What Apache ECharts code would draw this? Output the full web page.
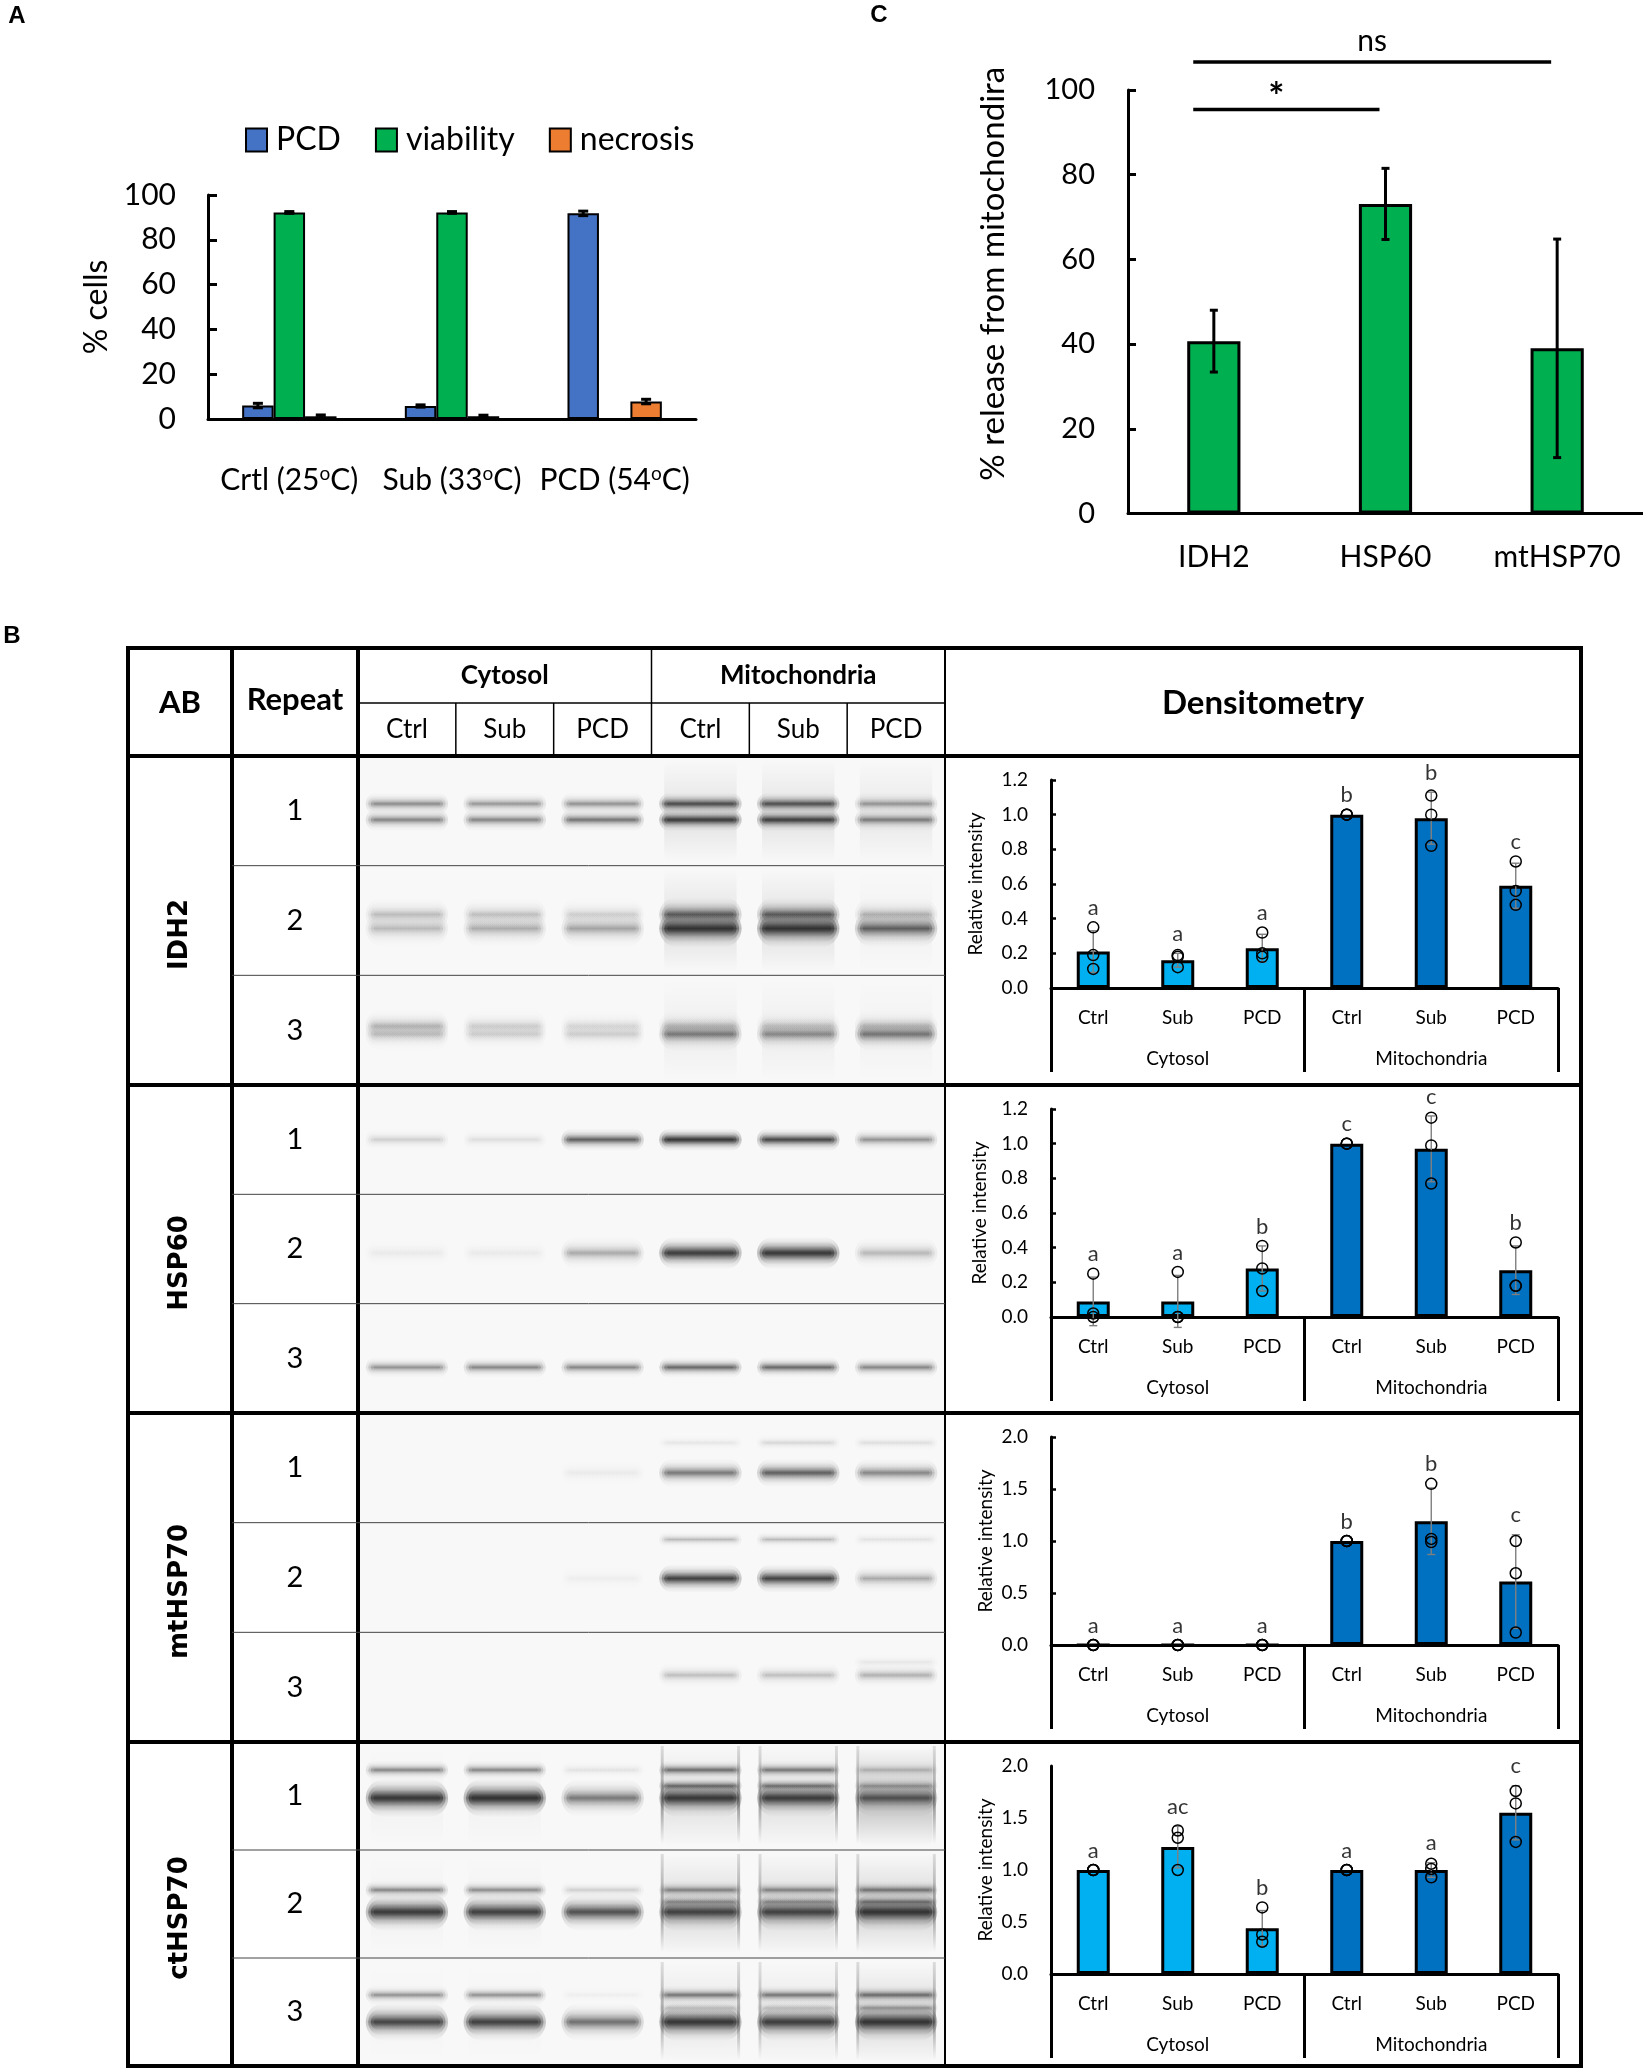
<!DOCTYPE html>
<html><head><meta charset="utf-8">
<script src="https://cdn.jsdelivr.net/npm/echarts/dist/echarts.min.js"></script>
<style>html,body{margin:0;padding:0;background:#fff}#c{width:1643px;height:2069px}</style>
</head><body><div id="c"></div>
<script>
// ================= DATA =================
// Panel A
const catsA = ['Crtl (25oC)', 'Sub (33oC)', 'PCD (54oC)'];
const namesA = ['PCD', 'viability', 'necrosis'];
const pcdA = [6.0, 5.8, 91.8];
const viabilityA = [92.2, 92.2, 0];
const necrosisA = [1.2, 1.2, 7.8];
const pcdErrA = [1.0, 0.5, 1.0];
const viabilityErrA = [0.4, 0.4, 0];
const necrosisErrA = [0.6, 0.5, 1.0];

// Panel C
const catsC = ['IDH2', 'HSP60', 'mtHSP70'];
const releaseC = [40.7, 73.1, 39.0];
const releaseErrC = [7.3, 8.4, 25.8];
const sigFrom = [0, 0];
const sigTo = [1, 2];
const sigLevel = [95.4, 106.6];
const sigText = ['*', 'ns'];

// Panel B – densitometry
const lanes = ['Ctrl', 'Sub', 'PCD', 'Ctrl', 'Sub', 'PCD'];
const fractions = ['Cytosol', 'Mitochondria'];
const repeats = ['1', '2', '3'];
const antibodies = ['IDH2', 'HSP60', 'mtHSP70', 'ctHSP70'];

const idh2Mean = [0.21, 0.16, 0.23, 1.00, 0.98, 0.59];
const idh2Sd = [0.12, 0.04, 0.08, 0, 0.15, 0.13];
const idh2Pts = [[0.35, 0.19, 0.11], [0.19, 0.18, 0.12], [0.32, 0.20, 0.18], [1, 1, 1], [1.11, 1.00, 0.82], [0.73, 0.56, 0.48]];
const idh2Letters = ['a', 'a', 'a', 'b', 'b', 'c'];

const hsp60Mean = [0.09, 0.09, 0.28, 1.00, 0.97, 0.27];
const hsp60Sd = [0.14, 0.15, 0.13, 0, 0.19, 0.14];
const hsp60Pts = [[0.25, 0.02, 0.0], [0.26, 0.0, 0.0], [0.41, 0.28, 0.15], [1, 1, 1], [1.15, 0.99, 0.77], [0.43, 0.18, 0.18]];
const hsp60Letters = ['a', 'a', 'b', 'c', 'c', 'b'];

const mthsp70Mean = [0, 0, 0, 1.00, 1.19, 0.61];
const mthsp70Sd = [0, 0, 0, 0, 0.32, 0.45];
const mthsp70Pts = [[0, 0, 0], [0, 0, 0], [0, 0, 0], [1, 1, 1], [1.55, 1.02, 0.99], [1.00, 0.69, 0.12]];
const mthsp70Letters = ['a', 'a', 'a', 'b', 'b', 'c'];

const cthsp70Mean = [1.00, 1.22, 0.44, 1.00, 1.00, 1.55];
const cthsp70Sd = [0, 0.20, 0.17, 0, 0.07, 0.26];
const cthsp70Pts = [[1, 1, 1], [1.38, 1.31, 1.00], [0.64, 0.38, 0.31], [1, 1, 1], [1.06, 1.01, 0.93], [1.76, 1.64, 1.27]];
const cthsp70Letters = ['a', 'ac', 'b', 'a', 'a', 'c'];

const densMax = [1.2, 1.2, 2.0, 2.0];
const densInterval = [0.2, 0.2, 0.5, 0.5];

// Western blot band darkness (rows = repeats, cols = lanes)
const idh2BandUpper = [[0.30, 0.26, 0.28, 0.60, 0.58, 0.26], [0.14, 0.13, 0.09, 0.48, 0.48, 0.16], [0.16, 0.09, 0.07, 0.12, 0.10, 0.12]];
const idh2BandLower = [[0.33, 0.33, 0.40, 0.75, 0.72, 0.36], [0.15, 0.19, 0.22, 0.85, 0.85, 0.50], [0.13, 0.09, 0.09, 0.36, 0.30, 0.38]];
const idh2Smear = [[0, 0, 0, 0.07, 0.07, 0.05], [0, 0, 0, 0.08, 0.08, 0.02], [0, 0, 0, 0.03, 0.03, 0.02]];
const hsp60Band = [[0.10, 0.06, 0.50, 0.80, 0.65, 0.28], [0.03, 0.03, 0.20, 0.75, 0.80, 0.16], [0.28, 0.32, 0.32, 0.45, 0.45, 0.32]];
const mthsp70BandUpper = [[0, 0, 0, 0.04, 0.08, 0.06], [0, 0, 0, 0.15, 0.15, 0.05], [0, 0, 0, 0, 0, 0.04]];
const mthsp70Band = [[0, 0, 0.03, 0.38, 0.50, 0.32], [0, 0, 0.02, 0.70, 0.68, 0.20], [0, 0, 0, 0.14, 0.14, 0.18]];
const cthsp70BandUpper = [[0.32, 0.32, 0.05, 0.42, 0.38, 0.15], [0.32, 0.30, 0.10, 0.32, 0.32, 0.38], [0.28, 0.28, 0.02, 0.38, 0.38, 0.42]];
const cthsp70BandMid = [[0, 0, 0, 0.40, 0.36, 0.20], [0, 0, 0, 0.22, 0.22, 0.32], [0, 0, 0, 0.10, 0.10, 0.22]];
const cthsp70BandLower = [[0.82, 0.88, 0.38, 0.80, 0.76, 0.55], [0.78, 0.72, 0.60, 0.70, 0.70, 0.85], [0.68, 0.72, 0.42, 0.82, 0.75, 0.85]];
const cthsp70Smear = [[0.02, 0.02, 0, 0.08, 0.08, 0.18], [0.02, 0.02, 0, 0.10, 0.10, 0.12], [0.01, 0.01, 0, 0.06, 0.06, 0.10]];
const cthsp70Edges = [[0, 0, 0, 0.45, 0.40, 0.45], [0, 0, 0, 0.45, 0.40, 0.45], [0, 0, 0, 0.40, 0.35, 0.45]];

// ================= LAYOUT / STYLE =================
const FONT = 'Lato';
const W = 1643, H = 2069;
const T = { left: 128, right: 1581, top: 648, hMid: 703, hBot: 756, colAB: 232, colRep: 358, colBlot: 945, bottom: 2066 };
const secTops = [756, 1085, 1413, 1742, 2066];
const densInfo = [
  { mean: idh2Mean, sd: idh2Sd, pts: idh2Pts, letters: idh2Letters, nameGap: 66, ticks: true },
  { mean: hsp60Mean, sd: hsp60Sd, pts: hsp60Pts, letters: hsp60Letters, nameGap: 62, ticks: true },
  { mean: mthsp70Mean, sd: mthsp70Sd, pts: mthsp70Pts, letters: mthsp70Letters, nameGap: 56, ticks: true },
  { mean: cthsp70Mean, sd: cthsp70Sd, pts: cthsp70Pts, letters: cthsp70Letters, nameGap: 56, ticks: false }
];
const bandLayers = [
  [{ d: idh2Smear, kind: 'smear' }, { d: idh2BandUpper, dy: [-7, -6, -4], h: [12, 18, 18] }, { d: idh2BandLower, dy: [9, 8, 4], h: [12, 20, 18] }],
  [{ d: hsp60Band, dy: [0, 4, 9], h: [12, 17, 11] }],
  [{ d: mthsp70BandUpper, dy: [-25, -38, -25], h: [9, 9, 9] }, { d: mthsp70Band, dy: [5, 1, -12], h: [15, 15, 13] }],
  [{ d: cthsp70Smear, kind: 'smear' }, { d: cthsp70Edges, kind: 'edge' }, { d: cthsp70BandUpper, dy: [-26, -14, -17], h: [10, 10, 10] }, { d: cthsp70BandMid, dy: [-10, -2, -4], h: [9, 9, 9] }, { d: cthsp70BandLower, dy: [2, 8, 10], h: [20, 20, 20] }]
];

const grids = [], xAxes = [], yAxes = [], series = [], graphics = [];
const txt = (o) => Object.assign({ fontFamily: FONT, color: '#000' }, o);

// ---------- Panel A ----------
grids.push({ left: 208, top: 195, width: 488, height: 224, outerBoundsMode: 'none', containLabel: false });
xAxes.push({
  type: 'category', gridIndex: 0, data: catsA,
  axisLine: { lineStyle: { color: '#000', width: 3 } }, axisTick: { show: false },
  axisLabel: {
    interval: 0, margin: 45,
    formatter: v => { const i = v.indexOf('oC'); return '{t|' + v.slice(0, i) + '}{s|o}{t|' + v.slice(i + 1) + '}'; },
    rich: { t: txt({ fontSize: 30 }), s: txt({ fontSize: 19, padding: [0, 0, 14, 0] }) }
  }
});
yAxes.push({
  type: 'value', gridIndex: 0, min: 0, max: 100, interval: 20, splitLine: { show: false },
  axisLine: { show: true, lineStyle: { color: '#000', width: 3 } },
  axisTick: { show: true, inside: true, length: 9, lineStyle: { color: '#000', width: 3 } },
  axisLabel: txt({ fontSize: 30, margin: 32 }),
  name: '% cells', nameLocation: 'middle', nameRotate: 90, nameGap: 95, nameTextStyle: txt({ fontSize: 32 })
});
const colorsA = ['#4472C4', '#00B050', '#ED7D31'];
const valsA = [pcdA, viabilityA, necrosisA];
const errsA = [pcdErrA, viabilityErrA, necrosisErrA];
valsA.forEach((vals, k) => {
  series.push({
    type: 'bar', name: namesA[k], xAxisIndex: 0, yAxisIndex: 0, data: vals,
    barGap: '0%', barCategoryGap: '42%',
    itemStyle: { color: colorsA[k], borderColor: '#000', borderWidth: 2 }, z: 2
  });
});
valsA.forEach((vals, k) => {
  series.push({
    type: 'custom', xAxisIndex: 0, yAxisIndex: 0, z: 5, clip: false,
    data: vals.map((v, i) => [i, v, errsA[k][i]]),
    renderItem: (p, api) => {
      const e = api.value(2); if (!e) return null;
      const catW = api.size([1, 0])[0];
      const off = (k - 1) * 0.58 / 3 * catW;
      const a = api.coord([api.value(0), api.value(1) + e]);
      const b = api.coord([api.value(0), api.value(1) - e]);
      const x = a[0] + off, cw = 5;
      const st = { stroke: '#000', lineWidth: 3 };
      return { type: 'group', children: [
        { type: 'line', shape: { x1: x, y1: a[1], x2: x, y2: b[1] }, style: st },
        { type: 'line', shape: { x1: x - cw, y1: a[1], x2: x + cw, y2: a[1] }, style: st },
        { type: 'line', shape: { x1: x - cw, y1: b[1], x2: x + cw, y2: b[1] }, style: st }
      ] };
    }
  });
});

// ---------- Panel C ----------
grids.push({ left: 1128, top: 90, width: 515, height: 423.5, outerBoundsMode: 'none', containLabel: false });
xAxes.push({
  type: 'category', gridIndex: 1, data: catsC,
  axisLine: { lineStyle: { color: '#000', width: 3 } }, axisTick: { show: false },
  axisLabel: txt({ fontSize: 30, margin: 29, interval: 0 })
});
yAxes.push({
  type: 'value', gridIndex: 1, min: 0, max: 100, interval: 20, splitLine: { show: false },
  axisLine: { show: true, lineStyle: { color: '#000', width: 3 } },
  axisTick: { show: true, inside: true, length: 8, lineStyle: { color: '#000', width: 3 } },
  axisLabel: txt({ fontSize: 29, margin: 33 }),
  name: '% release from mitochondira', nameLocation: 'middle', nameRotate: 90, nameGap: 118,
  nameTextStyle: txt({ fontSize: 33, padding: [0, 0, 0, 56] })
});
series.push({
  type: 'bar', xAxisIndex: 1, yAxisIndex: 1, data: releaseC, barWidth: '31%',
  itemStyle: { color: '#00B050', borderColor: '#000', borderWidth: 3 }, z: 2
});
series.push({
  type: 'custom', xAxisIndex: 1, yAxisIndex: 1, z: 5, clip: false,
  data: releaseC.map((v, i) => [i, v, releaseErrC[i]]),
  renderItem: (p, api) => {
    const e = api.value(2);
    const a = api.coord([api.value(0), api.value(1) + e]);
    const b = api.coord([api.value(0), api.value(1) - e]);
    const x = a[0], cw = 4, st = { stroke: '#000', lineWidth: 3 };
    return { type: 'group', children: [
      { type: 'line', shape: { x1: x, y1: a[1], x2: x, y2: b[1] }, style: st },
      { type: 'line', shape: { x1: x - cw, y1: a[1], x2: x + cw, y2: a[1] }, style: st },
      { type: 'line', shape: { x1: x - cw, y1: b[1], x2: x + cw, y2: b[1] }, style: st }
    ] };
  }
});
series.push({
  type: 'custom', xAxisIndex: 1, yAxisIndex: 1, z: 5, clip: false,
  data: sigFrom.map((f, i) => [f, sigTo[i], sigLevel[i], i]),
  renderItem: (p, api) => {
    const catW = api.size([1, 0])[0];
    const a = api.coord([api.value(0), api.value(2)]);
    const b = api.coord([api.value(1), api.value(2)]);
    const x1 = a[0] - 0.12 * catW, x2 = b[0] - 0.035 * catW, y = a[1];
    const s = sigText[api.value(3)];
    const star = s === '*';
    return { type: 'group', children: [
      { type: 'line', shape: { x1: x1, y1: y, x2: x2, y2: y }, style: { stroke: '#000', lineWidth: 3.5 } },
      { type: 'text', x: (x1 + x2) / 2 - (star ? 10 : 0), y: star ? y - 12 : y - 21,
        style: { text: s, fontFamily: FONT, fontSize: star ? 38 : 30, fontWeight: star ? 'bold' : 'normal', fill: '#000', align: 'center', verticalAlign: 'middle' } }
    ] };
  }
});

// ---------- Panel B : densitometry charts ----------
densInfo.forEach((D, k) => {
  const S = secTops[k];
  const gi = grids.length;
  grids.push({ left: 1051, top: S + 24, width: 507, height: 208, outerBoundsMode: 'none', containLabel: false });
  const xi = xAxes.length;
  xAxes.push({
    type: 'category', gridIndex: gi, data: lanes,
    axisLine: { lineStyle: { color: '#000', width: 3 } }, axisTick: { show: false },
    axisLabel: txt({ fontSize: 19, margin: 20, interval: 0 })
  });
  xAxes.push({
    type: 'category', gridIndex: gi, data: fractions, position: 'bottom',
    axisLine: { show: false },
    axisTick: { show: true, interval: 0, length: 84, lineStyle: { color: '#000', width: 3 } },
    axisLabel: txt({ fontSize: 19, margin: 61, interval: 0 })
  });
  const yi = yAxes.length;
  yAxes.push({
    type: 'value', gridIndex: gi, min: 0, max: densMax[k], interval: densInterval[k], splitLine: { show: false },
    axisLine: { show: true, lineStyle: { color: '#000', width: 3 } },
    axisTick: { show: D.ticks, inside: true, length: 5, lineStyle: { color: '#000', width: 2.5 } },
    axisLabel: txt({ fontSize: 19, margin: 23, formatter: v => v.toFixed(1) }),
    name: 'Relative intensity', nameLocation: 'middle', nameRotate: 90, nameGap: D.nameGap,
    nameTextStyle: txt({ fontSize: 19 })
  });
  series.push({
    type: 'bar', xAxisIndex: xi, yAxisIndex: yi, barWidth: 33, z: 2,
    data: D.mean.map((v, i) => ({ value: v, itemStyle: { color: i < 3 ? '#00B0F0' : '#0070C0' } })),
    itemStyle: { borderColor: '#000', borderWidth: 3 }
  });
  series.push({
    type: 'custom', xAxisIndex: xi, yAxisIndex: yi, z: 4, clip: false,
    data: D.mean.map((v, i) => [i, v, D.sd[i]]),
    renderItem: (p, api) => {
      const e = api.value(2); if (!e) return null;
      const a = api.coord([api.value(0), api.value(1) + e]);
      const b = api.coord([api.value(0), api.value(1) - e]);
      const x = a[0], cw = 4, st = { stroke: '#7f7f7f', lineWidth: 1.4 };
      return { type: 'group', children: [
        { type: 'line', shape: { x1: x, y1: a[1], x2: x, y2: b[1] }, style: st },
        { type: 'line', shape: { x1: x - cw, y1: a[1], x2: x + cw, y2: a[1] }, style: st },
        { type: 'line', shape: { x1: x - cw, y1: b[1], x2: x + cw, y2: b[1] }, style: st }
      ] };
    }
  });
  const pts = [];
  D.pts.forEach((arr, i) => arr.forEach(v => pts.push([i, v])));
  series.push({
    type: 'scatter', xAxisIndex: xi, yAxisIndex: yi, z: 6, data: pts, symbol: 'circle', symbolSize: 11,
    itemStyle: { color: 'rgba(0,0,0,0)', borderColor: '#000', borderWidth: 1.5, opacity: 1 }, clip: false
  });
  series.push({
    type: 'scatter', xAxisIndex: xi, yAxisIndex: yi, z: 6, symbolSize: 1, clip: false,
    itemStyle: { color: 'rgba(0,0,0,0)' },
    data: D.mean.map((m, i) => [i, Math.max(m + D.sd[i], ...D.pts[i]), D.letters[i]]),
    label: { show: true, position: 'top', distance: 8, formatter: p => p.data[2], fontFamily: FONT, fontSize: 22, color: '#000' }
  });
});

// ---------- Panel B : blot grids ----------
bandLayers.forEach((layers, k) => {
  const S = secTops[k], E = secTops[k + 1];
  const gi = grids.length;
  grids.push({ left: T.colRep, top: S, width: T.colBlot - T.colRep, height: E - S, show: true, backgroundColor: '#f8f8f8', borderWidth: 0, outerBoundsMode: 'none', containLabel: false });
  const xi = xAxes.length;
  xAxes.push({ type: 'category', gridIndex: gi, data: lanes.map((l, i) => l + i), show: false });
  const yi = yAxes.length;
  yAxes.push({
    type: 'category', gridIndex: gi, data: repeats, inverse: true,
    axisLine: { show: false }, axisTick: { show: false }, splitLine: { show: false },
    axisLabel: txt({ fontSize: 29, margin: 63, align: 'center' })
  });
  layers.forEach(layer => {
    const data = [];
    layer.d.forEach((row, r) => row.forEach((a, l) => { if (a > 0) data.push([l, r, a]); }));
    series.push({
      type: 'custom', xAxisIndex: xi, yAxisIndex: yi, z: 1, data: data,
      renderItem: (p, api) => {
        const l = api.value(0), r = api.value(1), a = api.value(2);
        const c = api.coord([l, r]);
        const sz = api.size([1, 1]);
        const w = sz[0] * 0.74;
        const col = o => 'rgba(35,35,35,' + o + ')';
        const vgrad = (stops) => ({ type: 'linear', x: 0, y: 0, x2: 0, y2: 1, colorStops: stops });
        if (layer.kind === 'smear') {
          return { type: 'rect', shape: { x: c[0] - w / 2, y: c[1] - sz[1] / 2 + 4, width: w, height: sz[1] - 8, r: 6 },
            style: { fill: vgrad([{ offset: 0, color: col(0) }, { offset: 0.4, color: col(a) }, { offset: 0.7, color: col(a) }, { offset: 1, color: col(0) }]) } };
        }
        if (layer.kind === 'edge') {
          const mk = (x) => ({ type: 'rect', shape: { x: x - 1.5, y: c[1] - sz[1] / 2 + 4, width: 3, height: sz[1] - 10 },
            style: { fill: vgrad([{ offset: 0, color: col(a * 0.3) }, { offset: 0.6, color: col(a) }, { offset: 1, color: col(0) }]) } });
          return { type: 'group', children: [mk(c[0] - w / 2 - 2), mk(c[0] + w / 2 + 2)] };
        }
        const h = layer.h[r], cy = c[1] + layer.dy[r];
        // soft band made of stacked translucent layers
        const parts = [
          { dw: 10, f: 1.9, o: 0.22 },
          { dw: 5, f: 1.35, o: 0.32 },
          { dw: 0, f: 0.85, o: 0.45 },
          { dw: -6, f: 0.45, o: 0.35 }
        ];
        return { type: 'group', children: parts.map(pt => {
          const hh = h * pt.f, ww = w + pt.dw;
          return { type: 'rect', shape: { x: c[0] - ww / 2, y: cy - hh / 2, width: ww, height: hh, r: hh / 2 },
            style: { fill: vgrad([{ offset: 0, color: col(0) }, { offset: 0.5, color: col(Math.min(1, a * pt.o * 1.6)) }, { offset: 1, color: col(0) }]) } };
        }) };
      }
    });
  });
});

// ---------- Table graphics ----------
const G = (o) => Object.assign({ z: 100 }, o);
const line = (x1, y1, x2, y2, w, c) => G({ type: 'line', shape: { x1, y1, x2, y2 }, style: { stroke: c || '#000', lineWidth: w } });
const text = (x, y, s, size, weight, fam, rot) => G({
  type: 'text', x, y, rotation: rot || 0,
  style: { text: s, fontSize: size, fontWeight: weight || 'normal', fontFamily: fam || FONT, fill: '#000', align: 'center', verticalAlign: 'middle' }
});
graphics.push(G({ type: 'rect', shape: { x: T.left, y: T.top, width: T.right - T.left, height: T.bottom - T.top }, style: { fill: 'none', stroke: '#000', lineWidth: 4 } }));
graphics.push(line(T.left, T.hBot, T.right, T.hBot, 4));
for (let k = 1; k < 4; k++) graphics.push(line(T.left, secTops[k], T.right, secTops[k], 4));
graphics.push(line(T.colAB, T.top, T.colAB, T.bottom, 4));
graphics.push(line(T.colRep, T.top, T.colRep, T.bottom, 4));
graphics.push(line(T.colBlot, T.top, T.colBlot, T.bottom, 2));
graphics.push(line(T.colRep, T.hMid, T.colBlot, T.hMid, 1.5));
const laneW = (T.colBlot - T.colRep) / 6;
for (let i = 1; i < 6; i++) {
  const x = T.colRep + i * laneW;
  graphics.push(line(x, i === 3 ? T.top : T.hMid, x, T.hBot, 1.5));
}
for (let k = 0; k < 4; k++) {
  const S = secTops[k], E = secTops[k + 1], h = (E - S) / 3;
  graphics.push(line(T.colAB, S + h, T.colBlot, S + h, 1, '#444'));
  graphics.push(line(T.colAB, S + 2 * h, T.colBlot, S + 2 * h, 1, '#444'));
  graphics.push(text((T.left + T.colAB) / 2, (S + E) / 2 + 14, antibodies[k], 26, 'bold', 'DejaVu Sans', Math.PI / 2));
}
graphics.push(text((T.left + T.colAB) / 2, (T.top + T.hBot) / 2 + 1, 'AB', 31, 'bold'));
graphics.push(text((T.colAB + T.colRep) / 2, (T.top + T.hBot) / 2 - 2, 'Repeat', 31, 'bold'));
graphics.push(text(T.colRep + 1.5 * laneW, (T.top + T.hMid) / 2, fractions[0], 26, 'bold'));
graphics.push(text(T.colRep + 4.5 * laneW, (T.top + T.hMid) / 2, fractions[1], 26, 'bold'));
lanes.forEach((l, i) => graphics.push(text(T.colRep + (i + 0.5) * laneW, (T.hMid + T.hBot) / 2, l, 26)));
graphics.push(text((T.colBlot + T.right) / 2, (T.top + T.hBot) / 2 + 1, 'Densitometry', 33, 'bold'));
// panel letters
graphics.push(text(17, 16, 'A', 24, 'bold', 'Liberation Sans'));
graphics.push(text(12, 636, 'B', 24, 'bold', 'Liberation Sans'));
graphics.push(text(879, 15, 'C', 24, 'bold', 'Liberation Sans'));

const chart = echarts.init(document.getElementById('c'), null, { renderer: 'canvas', width: W, height: H });
chart.setOption({
  backgroundColor: '#fff',
  animation: false,
  textStyle: { fontFamily: FONT },
  legend: {
    data: namesA, left: 240, top: 119, icon: 'rect', itemWidth: 21, itemHeight: 23, itemGap: 34,
    textStyle: txt({ fontSize: 32, padding: [0, 0, 0, 4] })
  },
  grid: grids, xAxis: xAxes, yAxis: yAxes, series: series, graphic: graphics
});
</script>
</body></html>
